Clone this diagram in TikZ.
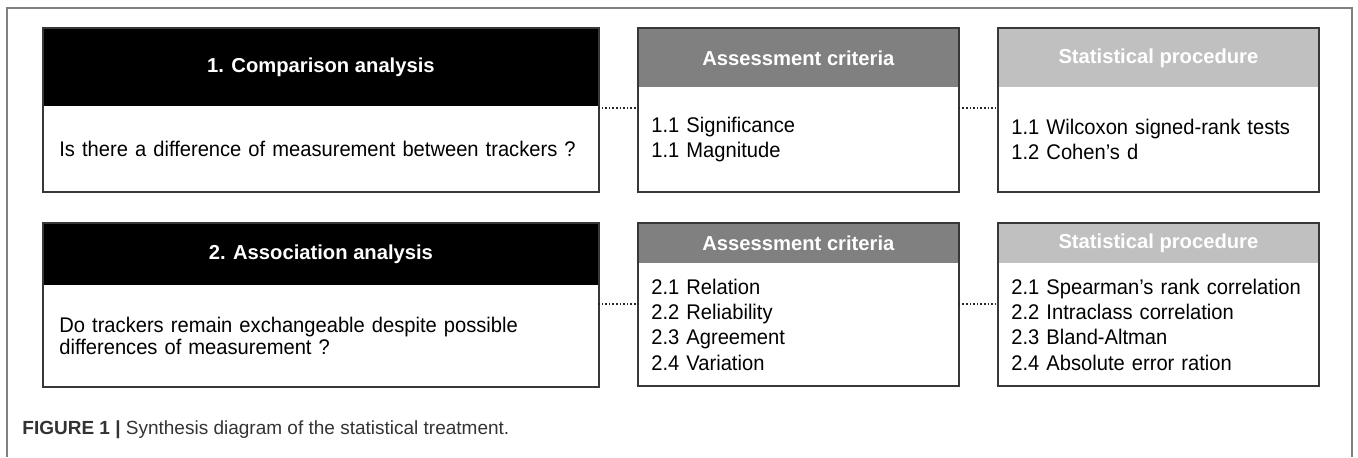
\documentclass[tikz,border=0pt]{standalone}
\usepackage{fontspec}
\setmainfont{Liberation Sans}
\newfontfamily\bodyfont[FakeStretch=0.95]{Liberation Sans}
\usetikzlibrary{positioning}

\definecolor{framegray}{HTML}{808080}
\definecolor{critgray}{HTML}{808080}
\definecolor{procgray}{HTML}{C0C0C0}
\definecolor{edgegray}{HTML}{383838}
\definecolor{captext}{HTML}{333333}

\begin{document}
\begin{tikzpicture}[x=0.5pt, y=-0.5pt,
        head/.style={anchor=north west, inner sep=0pt, text=white, font=\bfseries\fontsize{10.1}{12}\selectfont},
        body/.style={anchor=north west, inner xsep=6.5pt, inner ysep=0pt, align=left, font=\bodyfont\fontsize{10.6}{12.7}\selectfont},
        outline/.style={draw=edgegray, line width=0.9pt},
        link/.style={draw=black!85, line width=1pt, dash pattern=on 0.8pt off 1pt}
    ]
        \useasboundingbox (0,0) rectangle (1358,457);
        % Outer frame, open at the bottom
        \draw[framegray, line width=0.6pt] (7,457) -- (7,8) -- (1352,8) -- (1352,457);

        % Row 1
        \node [head, fill=black, minimum width=277.5pt, minimum height=39pt] (comph) at (43,28) {1. Comparison analysis};
        \node [body, text width=264.5pt, minimum height=42pt, inner xsep=6.5pt] (compb) at (comph.south west) {\hspace*{1.5pt}Is there a difference of measurement between trackers ?};

        \node [head, fill=critgray, minimum width=160pt, minimum height=29.5pt] (crith1) at (638,28) {Assessment criteria};
        \node [body, text width=147pt, minimum height=51.5pt] (critb1) at (crith1.south west) {1.1 Significance\\1.1 Magnitude};

        \node [head, fill=procgray, minimum width=160pt, minimum height=29.5pt] (proch1) at (998,28) {Statistical procedure};
        \node [body, text width=147pt, minimum height=51.5pt] (procb1) at (proch1.south west) {1.1 Wilcoxon signed-rank tests\\1.2 Cohen’s d};

        % Row 2
        \node [head, fill=black, minimum width=277.5pt, minimum height=31pt] (assoh) at (43,223) {2. Association analysis};
        \node [body, text width=264.5pt, minimum height=50pt, font=\bodyfont\fontsize{10.6}{11}\selectfont] (assob) at (assoh.south west) {\hspace*{1.5pt}Do trackers remain exchangeable despite possible\\\hspace*{1.5pt}differences of measurement ?};

        \node [head, fill=critgray, minimum width=160pt, minimum height=20pt] (crith2) at (638,223) {Assessment criteria};
        \node [body, text width=147pt, minimum height=60.5pt] (critb2) at (crith2.south west) {2.1 Relation\\2.2 Reliability\\2.3 Agreement\\2.4 Variation};

        \node [head, fill=procgray, minimum width=160pt, minimum height=20pt] (proch2) at (998,223) {Statistical procedure};
        \node [body, text width=147pt, minimum height=60.5pt] (procb2) at (proch2.south west) {2.1 Spearman’s rank correlation\\2.2 Intraclass correlation\\2.3 Bland-Altman\\2.4 Absolute error ration};

        % Box outlines
        \foreach \h/\b in {comph/compb, crith1/critb1, proch1/procb1, assoh/assob, crith2/critb2, proch2/procb2}
            \draw [outline] (\h.north west) rectangle (\b.south east);

        % Dotted links
        \coordinate (lk1) at (598,108);
        \coordinate (lk2) at (598,304);
        \draw [link] (lk1) -- (lk1 -| critb1.west);
        \draw [link] (critb1.east |- lk1) -- (procb1.west |- lk1);
        \draw [link] (lk2) -- (lk2 -| critb2.west);
        \draw [link] (critb2.east |- lk2) -- (procb2.west |- lk2);

        % Caption
        \node [anchor=west, inner sep=0pt, text=captext, font=\fontsize{9.5}{11}\selectfont] (caption) at (22,430) {\textbf{FIGURE 1 |} Synthesis diagram of the statistical treatment.};
    \end{tikzpicture}
\end{document}
